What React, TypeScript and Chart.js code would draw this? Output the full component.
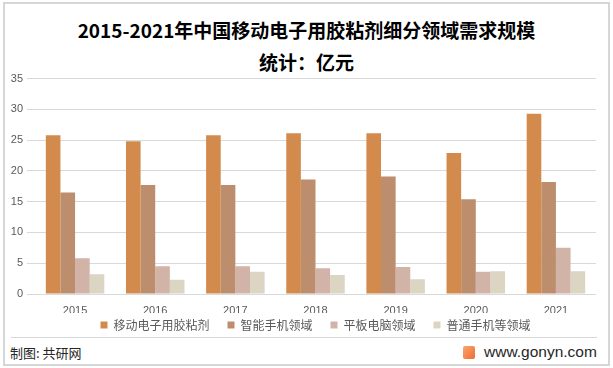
import React, { useEffect, useRef } from "react";
import { Chart, registerables } from "chart.js";
Chart.register(...registerables);

const categories = ["2015", "2016", "2017", "2018", "2019", "2020", "2021"];
const seriesNames = ["移动电子用胶粘剂", "智能手机领域", "平板电脑领域", "普通手机等领域"];
const mobileAdhesive = [25.8, 24.8, 25.8, 26.1, 26.1, 22.9, 29.3];
const smartphone = [16.5, 17.7, 17.7, 18.6, 19.1, 15.4, 18.2];
const tablet = [5.8, 4.5, 4.5, 4.2, 4.4, 3.6, 7.5];
const featurePhone = [3.2, 2.3, 3.6, 3.1, 2.4, 3.7, 3.7];
const seriesColors = ["#D38B4D", "#BC8E6E", "#D1B3A8", "#DDD5C3"];
const yMax = 35;
const yStep = 5;

const titleText = "2015-2021年中国移动电子用胶粘剂细分领域需求规模";
const subtitleText = "统计：亿元";
const footerLeft = "制图: 共研网";
const footerRight = "www.gonyn.com";

export default function App() {
  const ref = useRef<HTMLCanvasElement | null>(null);
  useEffect(() => {
    if (!ref.current) return;
    const seriesData = [mobileAdhesive, smartphone, tablet, featurePhone];
    const chart = new Chart(ref.current, {
      type: "bar",
      data: {
        labels: categories,
        datasets: seriesNames.map((name, i) => ({
          label: name,
          data: seriesData[i],
          backgroundColor: seriesColors[i],
          borderWidth: 0,
          barPercentage: 1,
          categoryPercentage: 0.73,
        })),
      },
      options: {
        animation: false,
        responsive: false,
        maintainAspectRatio: false,
        layout: { padding: { left: 0, right: 17, top: 4, bottom: 0 } },
        plugins: {
          legend: {
            position: "bottom",
            fullSize: false,
            labels: {
              boxWidth: 7,
              boxHeight: 7,
              padding: 6,
              color: "#595959",
              font: { size: 12, family: "'Noto Sans CJK SC', sans-serif" },
              generateLabels: (chart: any) => {
                const items = Chart.defaults.plugins.legend.labels.generateLabels(chart);
                return items.map((it: any, i: number) => ({
                  ...it,
                  text: i < items.length - 1 ? it.text + "\u3000" : it.text,
                  lineWidth: 0,
                }));
              },
            },
          },
          tooltip: { enabled: false },
        },
        scales: {
          x: {
            grid: { display: false },
            border: { display: false },
            afterFit: (s: any) => {
              s.height = 19;
            },
            ticks: {
              color: "#595959",
              padding: 2,
              font: { size: 11, family: "'Liberation Sans', sans-serif" },
            },
          },
          y: {
            min: 0,
            max: yMax,
            grid: { color: "#D9D9D9", lineWidth: 1 },
            border: { display: false },
            afterFit: (s: any) => {
              s.width = 35;
            },
            ticks: {
              stepSize: yStep,
              color: "#595959",
              padding: 4,
              font: { size: 11, family: "'Liberation Sans', sans-serif" },
            },
          },
        },
      },
    });
    return () => chart.destroy();
  }, []);

  return (
    <div
      style={{
        position: "fixed",
        left: 0,
        top: 0,
        width: 613,
        height: 368,
        background: "#fff",
        fontFamily: "'Noto Sans CJK SC', sans-serif",
      }}
    >
      <div
        style={{
          position: "absolute",
          left: 3,
          top: 2,
          width: 603,
          height: 360,
          border: "2px solid #D6D6D6",
        }}
      />
      <div
        style={{
          position: "absolute",
          left: 0,
          top: 17,
          width: 613,
          textAlign: "center",
          fontSize: 19,
          fontWeight: "bold",
          color: "#000",
          lineHeight: "26px",
        }}
      >
        {titleText}
      </div>
      <div
        style={{
          position: "absolute",
          left: 0,
          top: 49,
          width: 613,
          textAlign: "center",
          fontSize: 19,
          fontWeight: "bold",
          color: "#000",
          lineHeight: "26px",
        }}
      >
        {subtitleText}
      </div>
      <canvas
        ref={ref}
        width={613}
        height={273}
        style={{ position: "absolute", left: 0, top: 68, width: 613, height: 273 }}
      />
      <div
        style={{
          position: "absolute",
          left: 11,
          top: 337,
          width: 586,
          height: 1,
          background: "#D9D9D9",
        }}
      />
      <div
        style={{
          position: "absolute",
          left: 10,
          top: 343,
          fontSize: 13,
          color: "#262626",
          lineHeight: "20px",
        }}
      >
        {footerLeft}
      </div>
      <div
        style={{
          position: "absolute",
          left: 463,
          top: 346,
          width: 12,
          height: 13,
          background: "linear-gradient(135deg, #F7A86A, #F06A3A)",
          borderRadius: 2,
        }}
      />
      <div
        style={{
          position: "absolute",
          left: 484,
          top: 342,
          fontSize: 15.5,
          color: "#262626",
          lineHeight: "20px",
          fontFamily: "'Liberation Sans', sans-serif",
        }}
      >
        {footerRight}
      </div>
    </div>
  );
}
